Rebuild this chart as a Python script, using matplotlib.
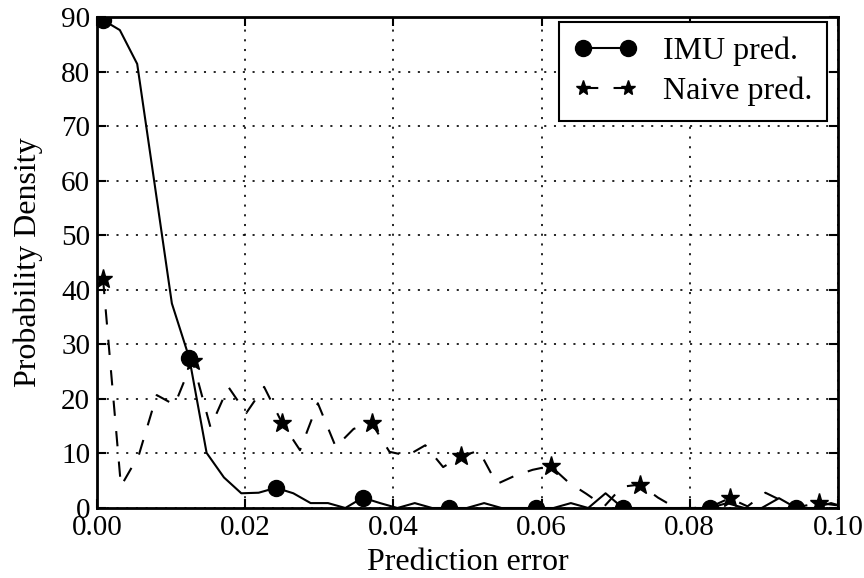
import matplotlib
matplotlib.use("Agg")
import matplotlib.pyplot as plt

plt.rcParams.update({
    'font.family': ['Liberation Serif', 'DejaVu Serif'],
    'font.size': 20,
    'lines.scale_dashes': False,
})

# IMU prediction error histogram (bin centres and density)
imu_x = [0.00074, 0.00308, 0.00542, 0.00776, 0.01010, 0.01245, 0.01479, 0.01713,
         0.01947, 0.02181, 0.02415, 0.02649, 0.02883, 0.03117, 0.03351, 0.03586,
         0.03820, 0.04054, 0.04288, 0.04522, 0.04756, 0.04990, 0.05224, 0.05458,
         0.05692, 0.05927, 0.06161, 0.06395, 0.06629, 0.06863, 0.07097, 0.07331,
         0.07565, 0.07799, 0.08033, 0.08268, 0.08502, 0.08736, 0.08970, 0.09204,
         0.09438, 0.09672, 0.09906, 0.10140]
imu_y = [89.5, 87.6, 81.4, 59.5, 37.5, 27.5, 10.1, 5.6,
         2.7, 2.8, 3.7, 2.7, 0.9, 0.9, 0.0, 1.9,
         0.9, 0.0, 0.9, 0.0, 0.0, 0.0, 0.9, 0.0,
         0.0, 0.0, 0.0, 0.9, 0.0, 2.7, 0.0, 0.0,
         0.0, 0.0, 0.0, 0.0, 0.9, 0.0, 0.0, 1.8,
         0.0, 0.0, 0.9, 0.0]

# naive prediction error histogram
naive_x = [0.00081, 0.00323, 0.00564, 0.00806, 0.01047, 0.01289, 0.01531, 0.01772,
           0.02014, 0.02255, 0.02497, 0.02739, 0.02980, 0.03222, 0.03463, 0.03705,
           0.03947, 0.04188, 0.04430, 0.04671, 0.04913, 0.05155, 0.05396, 0.05638,
           0.05879, 0.06121, 0.06363, 0.06604, 0.06846, 0.07087, 0.07329, 0.07571,
           0.07812, 0.08054, 0.08295, 0.08537, 0.08779, 0.09020, 0.09262, 0.09503,
           0.09745, 0.09986]
naive_y = [42.0, 4.0, 9.7, 20.7, 18.9, 27.0, 14.8, 22.2,
           17.4, 22.2, 15.6, 10.6, 19.2, 11.2, 14.5, 15.6,
           10.3, 9.6, 11.5, 7.5, 9.5, 10.5, 4.4, 5.9,
           7.0, 7.7, 4.7, 2.6, 0.3, 3.9, 4.3, 1.9,
           0.0, 0.0, 0.3, 1.8, 0.3, 2.8, 1.2, 0.3,
           0.9, 0.5]

x_ticks = [0.00, 0.02, 0.04, 0.06, 0.08, 0.10]
y_ticks = [0, 10, 20, 30, 40, 50, 60, 70, 80, 90]

fig = plt.figure(figsize=(8.64, 5.78), dpi=100)
ax = fig.add_axes([0.1123, 0.1211, 0.8576, 0.8495])

ax.plot(imu_x, imu_y, '-', color='black', lw=1.5, marker='o', markersize=11.5,
        markevery=5, label='IMU pred.')
ax.plot(naive_x, naive_y, color='black', lw=1.5, dashes=(11, 11), marker='*',
        markersize=14, markevery=5, label='Naive pred.')

ax.set_xlim(0, 0.1)
ax.set_ylim(0, 90)
ax.set_xticks(x_ticks)
ax.set_xticklabels([f"{t:.2f}" for t in x_ticks])
ax.set_yticks(y_ticks)

ax.grid(True, color='black', lw=1.2, dashes=(1.5, 5.5))
ax.tick_params(direction='in', top=True, right=True, length=6.5, width=1.5,
               pad=5, labelsize=21)
for s in ax.spines.values():
    s.set_linewidth(2.0)

ax.set_xlabel('Prediction error', fontsize=23, labelpad=5)
ax.set_ylabel('Probability Density', fontsize=23, labelpad=13)

leg = ax.legend(loc='upper right', numpoints=2, fancybox=False, framealpha=1,
                edgecolor='black', fontsize=23, handlelength=2.0,
                handletextpad=0.8, borderpad=0.45, labelspacing=0.35,
                bbox_to_anchor=(0.985, 0.99), borderaxespad=0)
leg.get_frame().set_linewidth(1.5)
# star in the legend is drawn smaller than in the plot
leg.legend_handles[1].set_markersize(11)

fig.savefig('out.png', dpi=100)
